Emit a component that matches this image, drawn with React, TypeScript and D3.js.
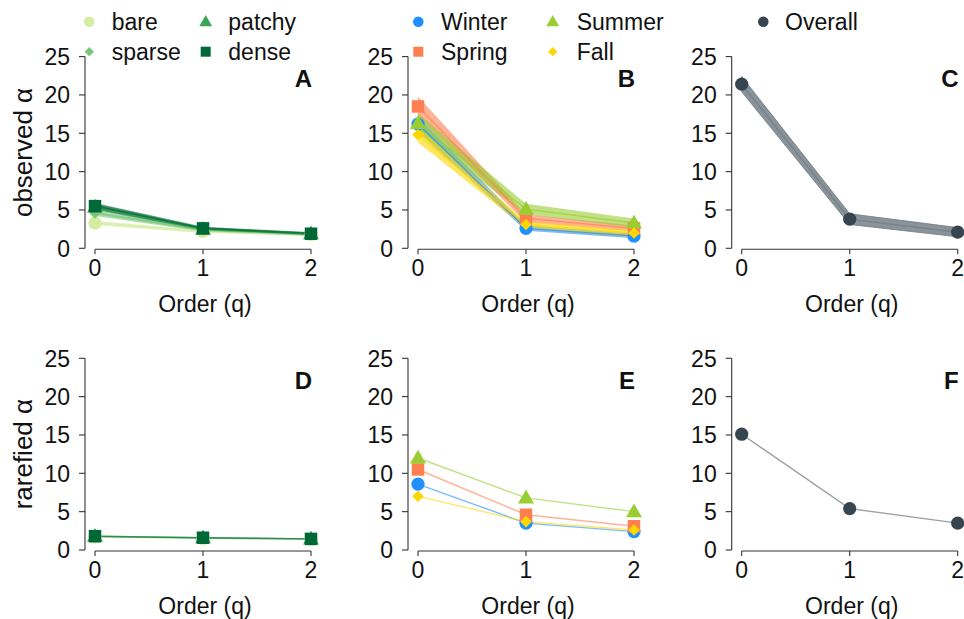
import React from "react";
import * as d3 from "d3";

// ---------- data ----------
const orders = [0, 1, 2];
const yTicks = [0, 5, 10, 15, 20, 25];

const habitatNames = ["bare", "sparse", "patchy", "dense"];
const habitatColors = ["#d4eda0", "#78c679", "#3aa655", "#006837"];
const habitatShapes = ["circle", "diamond", "triangle", "square"];

// observed alpha (habitat) mean, lower, upper
const bareObs = [3.3, 2.2, 1.8];
const bareObsLo = [3.0, 2.0, 1.6];
const bareObsHi = [3.6, 2.4, 2.0];
const sparseObs = [4.6, 2.4, 1.8];
const sparseObsLo = [4.2, 2.2, 1.6];
const sparseObsHi = [5.0, 2.6, 2.0];
const patchyObs = [5.4, 2.5, 1.9];
const patchyObsLo = [5.0, 2.3, 1.7];
const patchyObsHi = [5.8, 2.7, 2.1];
const denseObs = [5.5, 2.6, 1.9];
const denseObsLo = [5.1, 2.4, 1.7];
const denseObsHi = [5.9, 2.8, 2.1];

// rarefied alpha (habitat)
const bareRar = [1.7, 1.5, 1.4];
const sparseRar = [1.75, 1.55, 1.4];
const patchyRar = [1.8, 1.6, 1.45];
const denseRar = [1.8, 1.6, 1.45];

const seasonNames = ["Winter", "Spring", "Summer", "Fall"];
const seasonColors = ["#1e90ff", "#ff7f50", "#9acd32", "#ffd700"];
const seasonShapes = ["circle", "square", "triangle", "diamond"];

// observed alpha (season)
const winterObs = [16.2, 2.6, 1.6];
const winterObsLo = [15.2, 2.3, 1.3];
const winterObsHi = [17.2, 3.0, 1.9];
const springObs = [18.5, 3.9, 2.6];
const springObsLo = [17.2, 3.4, 2.2];
const springObsHi = [19.8, 4.4, 3.0];
const summerObs = [16.3, 5.1, 3.3];
const summerObsLo = [15.0, 4.4, 2.7];
const summerObsHi = [17.6, 5.8, 3.9];
const fallObs = [14.8, 3.1, 2.0];
const fallObsLo = [13.8, 2.6, 1.4];
const fallObsHi = [15.8, 3.5, 2.4];

// rarefied alpha (season)
const winterRar = [8.6, 3.5, 2.4];
const springRar = [10.5, 4.6, 3.1];
const summerRar = [12.0, 6.8, 5.0];
const fallRar = [7.0, 3.7, 2.6];

// overall
const overallObs = [21.4, 3.8, 2.1];
const overallObsLo = [20.4, 3.1, 1.5];
const overallObsHi = [22.4, 4.5, 2.7];
const overallRar = [15.1, 5.4, 3.5];

const panelLetters = ["A", "B", "C", "D", "E", "F"];
const rowTitles = ["observed α", "rarefied α"];
const xTitle = "Order (q)";

// ---------- layout ----------
const W = 964;
const H = 619;
const FONT = "'Liberation Sans', Arial, Helvetica, sans-serif";
const colX0 = [95, 418, 741.7];
const rowY0 = [248.3, 550];
const plotW = 216;
const plotH = 191.7;

type Series = {
  color: string;
  shape: string;
  mean: number[];
  lo?: number[];
  hi?: number[];
};

const habObsSeries: Series[] = [
  { mean: bareObs, lo: bareObsLo, hi: bareObsHi },
  { mean: sparseObs, lo: sparseObsLo, hi: sparseObsHi },
  { mean: patchyObs, lo: patchyObsLo, hi: patchyObsHi },
  { mean: denseObs, lo: denseObsLo, hi: denseObsHi },
].map((s, i) => ({ ...s, color: habitatColors[i], shape: habitatShapes[i] }));

const habRarSeries: Series[] = [bareRar, sparseRar, patchyRar, denseRar].map(
  (m, i) => ({ mean: m, color: habitatColors[i], shape: habitatShapes[i] })
);

const seaObsSeries: Series[] = [
  { mean: winterObs, lo: winterObsLo, hi: winterObsHi },
  { mean: springObs, lo: springObsLo, hi: springObsHi },
  { mean: summerObs, lo: summerObsLo, hi: summerObsHi },
  { mean: fallObs, lo: fallObsLo, hi: fallObsHi },
].map((s, i) => ({ ...s, color: seasonColors[i], shape: seasonShapes[i] }));

const seaRarSeries: Series[] = [winterRar, springRar, summerRar, fallRar].map(
  (m, i) => ({ mean: m, color: seasonColors[i], shape: seasonShapes[i] })
);

const ovObsSeries: Series[] = [
  { mean: overallObs, lo: overallObsLo, hi: overallObsHi, color: "#36454f", shape: "circle" },
];
const ovRarSeries: Series[] = [{ mean: overallRar, color: "#36454f", shape: "circle" }];

function symbolPath(shape: string, scale: number): string {
  if (shape === "circle") return d3.symbol(d3.symbolCircle, Math.PI * 6.6 * 6.6 * scale * scale)()!;
  if (shape === "square") return d3.symbol(d3.symbolSquare, 12.5 * 12.5 * scale * scale)()!;
  if (shape === "triangle") return d3.symbol(d3.symbolTriangle, 0.433 * 16 * 16 * scale * scale)()!;
  // diamond: rotated square
  const s = 5.8 * scale;
  return `M0,${-s}L${s},0L0,${s}L${-s},0Z`;
}

function Marker({ shape, color, x, y, scale = 1 }: { shape: string; color: string; x: number; y: number; scale?: number }) {
  const dy = shape === "triangle" ? 1 * scale : 0;
  return <path d={symbolPath(shape, scale)} transform={`translate(${x},${y + dy})`} fill={color} />;
}

type PanelProps = {
  col: number;
  row: number;
  series: Series[];
  letter: string;
  mode: "ribbonHab" | "ribbonSea" | "ribbonOv" | "thin" | "thinGrey";
};

function Panel({ col, row, series, letter, mode }: PanelProps) {
  const x0 = colX0[col];
  const y0 = rowY0[row];
  const x = d3.scaleLinear().domain([0, 2]).range([x0, x0 + plotW]);
  const y = d3.scaleLinear().domain([0, 25]).range([y0, y0 - plotH]);
  const axisX = x0 - 10;
  const xAxisY = y0 + 1;
  const line = d3
    .line<number>()
    .x((_, i) => x(orders[i]))
    .y((d) => y(d));
  const area = (lo: number[], hi: number[]) =>
    d3
      .area<number>()
      .x((_, i) => x(orders[i]))
      .y0((_, i) => y(lo[i]))
      .y1((_, i) => y(hi[i]))(orders)!;

  return (
    <g>
      {/* y axis */}
      <line x1={axisX} x2={axisX} y1={y(0)} y2={y(25)} stroke="#333" strokeWidth={1.1} />
      {yTicks.map((t) => (
        <g key={t}>
          <line x1={axisX - 6} x2={axisX} y1={y(t)} y2={y(t)} stroke="#333" strokeWidth={1.1} />
          <text x={axisX - 15} y={y(t)} dy="0.36em" textAnchor="end" fontSize={23} fontFamily={FONT} fill="#111">
            {t}
          </text>
        </g>
      ))}
      {/* x axis */}
      <line x1={x(0)} x2={x(2)} y1={xAxisY} y2={xAxisY} stroke="#333" strokeWidth={1.1} />
      {orders.map((o) => (
        <g key={o}>
          <line x1={x(o)} x2={x(o)} y1={xAxisY} y2={xAxisY + 5} stroke="#333" strokeWidth={1.1} />
          <text x={x(o)} y={y0 + 27.5} textAnchor="middle" fontSize={23} fontFamily={FONT} fill="#111">
            {o}
          </text>
        </g>
      ))}
      <text x={x(1) + 2} y={y0 + 63.5} textAnchor="middle" fontSize={23} fontFamily={FONT} fill="#111">
        {xTitle}
      </text>
      <text x={x(2) + 1} y={y0 - 161} textAnchor="end" fontSize={24} fontWeight="bold" fontFamily={FONT} fill="#111">
        {letter}
      </text>

      {/* ribbons */}
      {mode.startsWith("ribbon") &&
        series.map((s, i) =>
          s.lo && s.hi ? (
            <path
              key={"r" + i}
              d={area(s.lo, s.hi)}
              fill={mode === "ribbonOv" ? "#8a9399" : s.color}
              fillOpacity={mode === "ribbonOv" ? 1 : 0.6}
              stroke={mode === "ribbonOv" ? "#6e7a81" : "none"}
              strokeWidth={0.8}
            />
          ) : null
        )}
      {/* lines */}
      {series.map((s, i) => (
        <path
          key={"l" + i}
          d={line(s.mean)!}
          fill="none"
          stroke={mode === "thinGrey" ? "#9aa0a4" : mode === "ribbonOv" ? "#6e7a81" : s.color}
          strokeOpacity={mode === "thin" ? 0.6 : mode === "thinGrey" ? 1 : 0.7}
          strokeWidth={mode === "ribbonHab" ? 2 : 1.4}
        />
      ))}
      {/* markers */}
      {series.map((s, i) =>
        s.mean.map((v, j) => (
          <Marker key={`m${i}-${j}`} shape={s.shape} color={s.color} x={x(orders[j])} y={y(v)} />
        ))
      )}
    </g>
  );
}

function Legend({
  names,
  colors,
  shapes,
  markerX,
  textX,
}: {
  names: string[];
  colors: string[];
  shapes: string[];
  markerX: number[];
  textX: number[];
}) {
  const rowsY = [21.7, 51.7];
  return (
    <g>
      {names.map((n, i) => {
        const c = Math.floor(i / 2);
        const r = i % 2;
        return (
          <g key={n}>
            <Marker shape={shapes[i]} color={colors[i]} x={markerX[c]} y={rowsY[r]} scale={0.8} />
            <text x={textX[c]} y={rowsY[r]} dy="0.36em" fontSize={23} fontFamily={FONT} fill="#111">
              {n}
            </text>
          </g>
        );
      })}
    </g>
  );
}

export default function App() {
  return (
    <svg
      width={W}
      height={H}
      viewBox={`0 0 ${W} ${H}`}
      style={{ position: "absolute", left: 0, top: 0, background: "#fff" }}
    >
      <rect x={0} y={0} width={W} height={H} fill="#fff" />
      {/* legends */}
      <Legend names={habitatNames} colors={habitatColors} shapes={habitatShapes} markerX={[89.3, 205.7]} textX={[111.7, 228.3]} />
      <Legend names={seasonNames} colors={seasonColors} shapes={seasonShapes} markerX={[418.3, 552.7]} textX={[441, 576.7]} />
      <Legend names={["Overall"]} colors={["#36454f"]} shapes={["circle"]} markerX={[763.3]} textX={[785]} />

      {/* row titles */}
      {rowTitles.map((t, r) => (
        <text
          key={t}
          transform={`translate(32,${rowY0[r] - plotH / 2}) rotate(-90)`}
          textAnchor="middle"
          fontSize={26}
          fontFamily={FONT}
          fill="#111"
        >
          {t}
        </text>
      ))}

      <Panel col={0} row={0} series={habObsSeries} letter={panelLetters[0]} mode="ribbonHab" />
      <Panel col={1} row={0} series={seaObsSeries} letter={panelLetters[1]} mode="ribbonSea" />
      <Panel col={2} row={0} series={ovObsSeries} letter={panelLetters[2]} mode="ribbonOv" />
      <Panel col={0} row={1} series={habRarSeries} letter={panelLetters[3]} mode="thin" />
      <Panel col={1} row={1} series={seaRarSeries} letter={panelLetters[4]} mode="thin" />
      <Panel col={2} row={1} series={ovRarSeries} letter={panelLetters[5]} mode="thinGrey" />
    </svg>
  );
}
